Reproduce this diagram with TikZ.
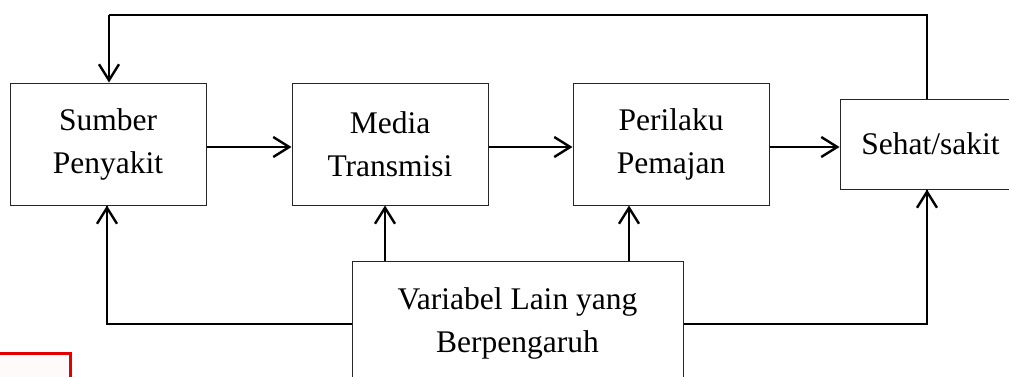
\documentclass[tikz,border=0pt]{standalone}
\usepackage{fontspec}
\setmainfont{Liberation Serif}
\usetikzlibrary{arrows.meta}
\tikzset{
  box/.style={draw=black!85, line width=1pt, align=center, inner sep=0pt,
    font=\fontsize{31.5}{43}\selectfont},
  arr/.style={line width=2.5pt, -{Straight Barb[length=16pt,width=20pt,line width=2.4pt]}},
  loop/.style={line width=2pt}
}
\begin{document}
\begin{tikzpicture}[x=1pt,y=-1pt]
\clip (0,0) rectangle (1009,376);
\fill[white] (0,0) rectangle (1009,376);
\node[box, minimum width=196pt, minimum height=122pt] (sumber) at (108,144) {Sumber\\Penyakit};
\node[box, minimum width=196pt, minimum height=122pt] (media) at (390,144) {Media\\Transmisi};
\node[box, minimum width=196pt, minimum height=122pt] (perilaku) at (671,144) {Perilaku\\Pemajan};
\node[box, minimum width=181pt, minimum height=90pt] (sehat) at (930.5,144) {Sehat/sakit};
\node[box, minimum width=331pt, minimum height=124pt] (var) at (517.5,323) {Variabel Lain yang\\Berpengaruh};
\coordinate (top) at (0,14.5);
% horizontal flow
\draw[arr] ([yshift=-3pt]sumber.east) -- ([yshift=-3pt]media.west);
\draw[arr] ([yshift=-3pt]media.east) -- ([yshift=-3pt]perilaku.west);
\draw[arr] ([yshift=-3pt]perilaku.east) -- ([yshift=-3pt]sehat.west);
% feedback loop
\draw[loop] ([xshift=-3.5pt]sehat.north) -- ([xshift=-3.5pt]sehat.north |- top) -- ([xshift=1pt]sumber.north |- top);
\draw[arr] ([xshift=1pt]sumber.north |- top) -- ([xshift=1pt]sumber.north);
% from Variabel
\draw[arr] ([xshift=-5pt]media.south |- var.north) -- ([xshift=-5pt]media.south);
\draw[arr] ([xshift=-42pt]perilaku.south |- var.north) -- ([xshift=-42pt]perilaku.south);
\draw[line width=2pt] ([yshift=-1pt]var.west) -| ([xshift=-1pt]sumber.south);
\draw[arr] ([xshift=-1pt,yshift=-1pt]sumber.south |- var.west) -- ([xshift=-1pt]sumber.south);
\draw[line width=2pt] ([yshift=-1pt]var.east) -| ([xshift=-3.5pt]sehat.south);
\draw[arr] ([xshift=-3.5pt,yshift=-1pt]sehat.south |- var.east) -- ([xshift=-3.5pt]sehat.south);
% red box fragment
\draw[red!90!black, line width=3pt, fill=red!2] (-10,353.5) rectangle (70.5,395);
\end{tikzpicture}
\end{document}
